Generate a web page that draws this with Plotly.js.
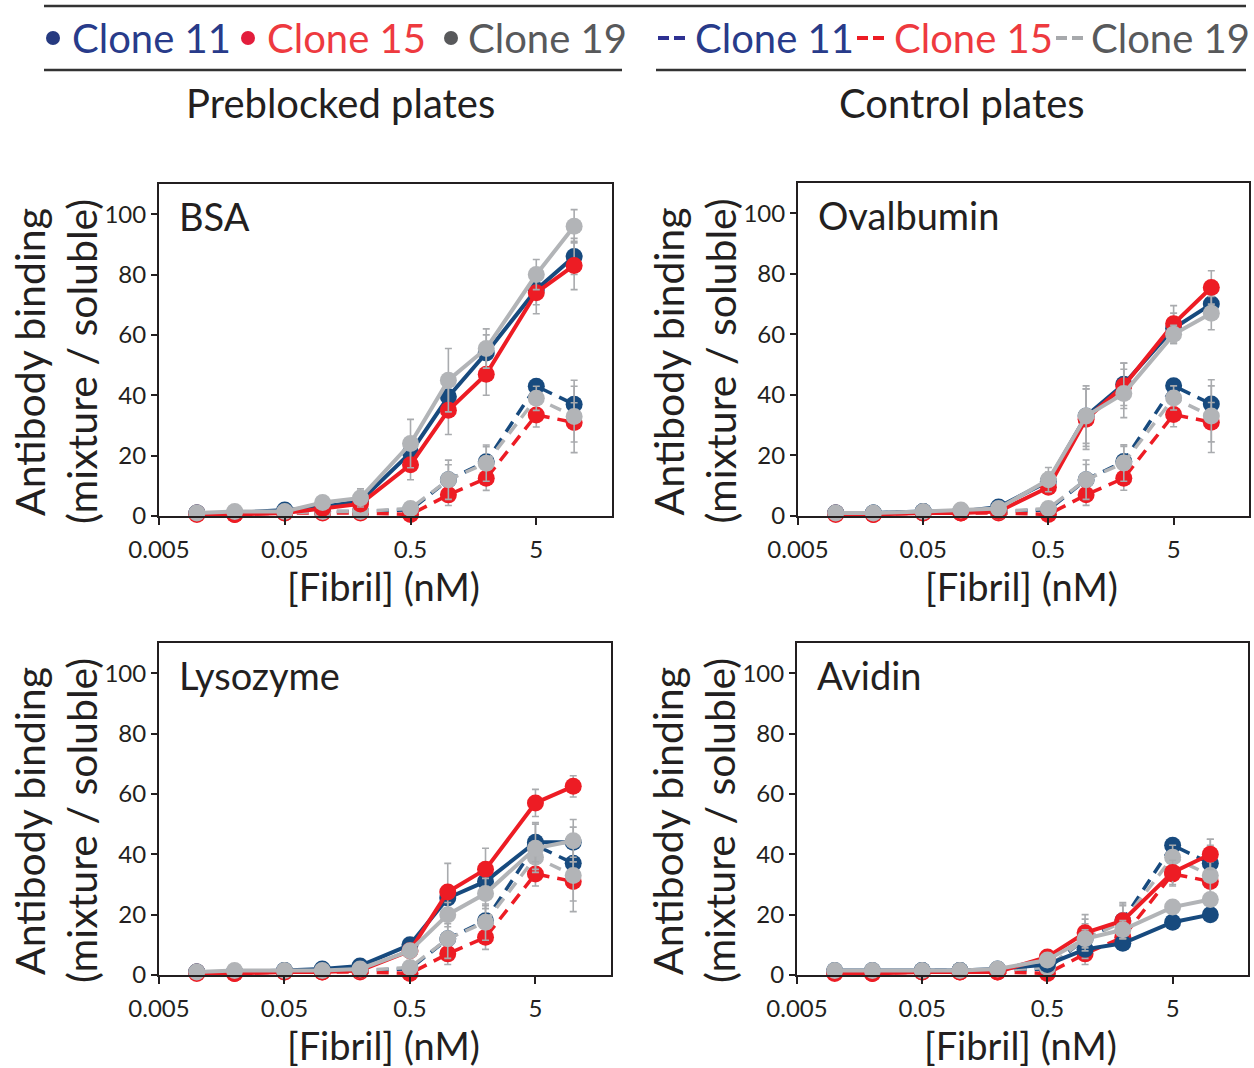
<!DOCTYPE html>
<html>
<head>
<meta charset="utf-8">
<script src="https://cdn.plot.ly/plotly-3.0.1.min.js"></script>
<style>html,body{margin:0;padding:0;background:#fff;}#chart{width:1254px;height:1068px;}</style>
</head>
<body>
<div id="chart"></div>
<script>
// ---- data ----
const fibril = [0.01, 0.02, 0.05, 0.1, 0.2, 0.5, 1, 2, 5, 10];
const xTickVals = [0.005, 0.05, 0.5, 5];
const xTickText = ['0.005', '0.05', '0.5', '5'];
const yTickVals = [0, 20, 40, 60, 80, 100];
const panelNames = ['BSA', 'Ovalbumin', 'Lysozyme', 'Avidin'];
const cloneNames = ['Clone 11', 'Clone 15', 'Clone 19'];

// control plates (dashed), same in every panel
const ctrl11 = [1, 1, 1.5, 1.5, 1.5, 2, 12, 18, 43, 37];
const ctrl15 = [1, 0.5, 1, 1, 1, 0.5, 7, 12.5, 33.5, 31];
const ctrl19 = [1, 1, 1, 1.5, 1.5, 2.5, 12, 17.5, 39, 33];
const ctrl11Err = [0.3, 0.3, 0.3, 0.3, 0.3, 0.5, 5, 5, 2, 6];
const ctrl15Err = [0.3, 0.3, 0.3, 0.3, 0.3, 0.5, 3.5, 4, 4, 6.5];
const ctrl19Err = [0.3, 0.3, 0.3, 0.3, 0.3, 0.5, 6.5, 6, 4, 12];

// preblocked plates (solid)
const bsa11 = [1, 1, 2, 3, 5, 21, 39.5, 54, 75, 86];
const bsa15 = [0.5, 0.5, 1, 2.5, 4, 17, 35, 47, 74, 83];
const bsa19 = [1, 1.5, 1.5, 4.5, 6, 24, 45, 55.5, 80, 96];
const bsa11Err = [0.3, 0.3, 0.5, 0.8, 1, 3, 6, 6, 5, 6];
const bsa15Err = [0.3, 0.3, 0.5, 0.8, 1, 5, 8, 7, 7, 8];
const bsa19Err = [0.3, 0.3, 0.5, 1, 3, 8, 10.5, 6.5, 5, 5.5];

const ova11 = [1, 1, 1.5, 1.5, 3, 11.5, 33, 43.5, 62, 70];
const ova15 = [0.5, 0.5, 1, 1, 1.5, 9.5, 32, 43, 63.5, 75.5];
const ova19 = [1, 1, 1.5, 2, 2.5, 12, 33, 40.5, 60, 67];
const ova11Err = [0.3, 0.3, 0.5, 0.5, 1, 3, 9, 7, 5, 5];
const ova15Err = [0.3, 0.3, 0.5, 0.5, 1, 2, 10, 7.5, 6, 5.5];
const ova19Err = [0.3, 0.3, 0.5, 0.5, 1, 4, 10, 8, 3, 5.5];

const lys11 = [1, 1, 1.5, 2, 3, 10, 25.5, 31, 44, 44];
const lys15 = [0.5, 0.5, 1, 1, 1.5, 8, 27.5, 35, 57, 62.5];
const lys19 = [1, 1.5, 1.5, 1.5, 2, 8, 20, 27, 42, 44.5];
const lys11Err = [0.3, 0.3, 0.5, 0.5, 1, 1, 4, 4, 6.5, 5];
const lys15Err = [0.3, 0.3, 0.5, 0.5, 1, 1, 9.5, 7, 4.5, 3.5];
const lys19Err = [0.3, 0.3, 0.5, 0.5, 1, 1, 4, 5, 8, 7];

const avi11 = [1.5, 1.5, 1.5, 1.5, 2, 3.5, 8.5, 10.5, 17.5, 20];
const avi15 = [0.5, 0.5, 1, 1, 1, 6, 14, 18, 34, 40];
const avi19 = [1.5, 1.5, 1.5, 1.5, 2, 5, 12, 15, 22.5, 25];
const avi11Err = [0.3, 0.3, 0.3, 0.3, 0.5, 1, 1.5, 2, 1.5, 1.5];
const avi15Err = [0.3, 0.3, 0.3, 0.3, 0.5, 1.5, 6, 6, 4, 5];
const avi19Err = [0.3, 0.3, 0.3, 0.3, 0.5, 1, 3, 3, 2, 2];

// ---- styling ----
const W = 1254, H = 1068;
const FONT = "Lato, 'Open Sans', sans-serif";
const lineCol = ['#174a7e', '#ed1c24', '#b2b4b7'];
const errCol = '#a9abae';
const px = p => p / W;
const py = p => 1 - p / H;

const solidSets = [
  [[bsa11, bsa11Err], [bsa15, bsa15Err], [bsa19, bsa19Err]],
  [[ova11, ova11Err], [ova15, ova15Err], [ova19, ova19Err]],
  [[lys11, lys11Err], [lys15, lys15Err], [lys19, lys19Err]],
  [[avi11, avi11Err], [avi15, avi15Err], [avi19, avi19Err]]
];
const ctrlSet = [[ctrl11, ctrl11Err], [ctrl15, ctrl15Err], [ctrl19, ctrl19Err]];

// panel boxes in pixels [left, right, top, bottom]
const boxes = [
  [159, 612, 184, 516],
  [798, 1249, 183, 516],
  [159, 611, 643, 975],
  [797, 1248, 643, 975]
];

const traces = [];
panelNames.forEach((name, p) => {
  const xa = p === 0 ? 'x' : 'x' + (p + 1);
  const ya = p === 0 ? 'y' : 'y' + (p + 1);
  ctrlSet.forEach((s, i) => {
    traces.push({
      type: 'scatter', mode: 'lines+markers', x: fibril, y: s[0],
      xaxis: xa, yaxis: ya, cliponaxis: false, showlegend: false,
      name: cloneNames[i] + ' control',
      line: {color: lineCol[i], width: 3.5, dash: '12px,8px'},
      marker: {color: lineCol[i], size: 17},
      error_y: {type: 'data', array: s[1], visible: true, color: errCol, thickness: 1.6, width: 3.5}
    });
  });
  solidSets[p].forEach((s, i) => {
    traces.push({
      type: 'scatter', mode: 'lines+markers', x: fibril, y: s[0],
      xaxis: xa, yaxis: ya, cliponaxis: false, showlegend: false,
      name: cloneNames[i] + ' preblocked',
      line: {color: lineCol[i], width: 4},
      marker: {color: lineCol[i], size: 17},
      error_y: {type: 'data', array: s[1], visible: true, color: errCol, thickness: 1.6, width: 3.5}
    });
  });
});

const layout = {
  width: W, height: H,
  margin: {l: 0, r: 0, t: 0, b: 0},
  paper_bgcolor: '#fff', plot_bgcolor: '#fff',
  showlegend: false,
  font: {family: FONT, color: '#231f20'},
  annotations: [], shapes: []
};

boxes.forEach((b, p) => {
  const xk = p === 0 ? 'xaxis' : 'xaxis' + (p + 1);
  const yk = p === 0 ? 'yaxis' : 'yaxis' + (p + 1);
  const ya = p === 0 ? 'y' : 'y' + (p + 1);
  const xa = p === 0 ? 'x' : 'x' + (p + 1);
  layout[xk] = {
    type: 'log', domain: [px(b[0]), px(b[1])], anchor: ya,
    range: [Math.log10(0.005), Math.log10(20)],
    tickvals: xTickVals, ticktext: xTickText,
    showline: true, mirror: true, linecolor: '#231f20', linewidth: 2,
    ticks: 'outside', ticklen: 7, tickwidth: 2, tickcolor: '#231f20',
    showgrid: false, zeroline: false, ticklabelstandoff: 4,
    tickfont: {family: FONT, size: 24, color: '#231f20'}
  };
  layout[yk] = {
    domain: [py(b[3]), py(b[2])], anchor: xa,
    range: [0, 110], tickvals: yTickVals,
    showline: true, mirror: true, linecolor: '#231f20', linewidth: 2,
    ticks: 'outside', ticklen: 6, tickwidth: 2, tickcolor: '#231f20',
    showgrid: false, zeroline: false,
    tickfont: {family: FONT, size: 24, color: '#231f20'}
  };
  // panel label
  layout.annotations.push({
    xref: 'paper', yref: 'paper', x: px(b[0] + 18), y: py(b[2] + 32),
    xanchor: 'left', yanchor: 'middle', showarrow: false,
    text: panelNames[p], font: {family: FONT, size: 38, color: '#231f20'}
  });
  // x title
  layout.annotations.push({
    xref: 'paper', yref: 'paper', x: px((b[0] + b[1]) / 2 - 2), y: py(b[3] + 70),
    xanchor: 'center', yanchor: 'middle', showarrow: false,
    text: '[Fibril] (nM)', font: {family: FONT, size: 38, color: '#231f20'}
  });
  // y title (two lines)
  const yc = (b[2] + b[3]) / 2 + 12;
  layout.annotations.push({
    xref: 'paper', yref: 'paper', x: px(b[0] - 130), y: py(yc),
    xanchor: 'center', yanchor: 'middle', showarrow: false, textangle: -90,
    text: 'Antibody binding', font: {family: FONT, size: 41, color: '#231f20'}
  });
  layout.annotations.push({
    xref: 'paper', yref: 'paper', x: px(b[0] - 78), y: py(yc),
    xanchor: 'center', yanchor: 'middle', showarrow: false, textangle: -90,
    text: '(mixture / soluble)', font: {family: FONT, size: 41, color: '#231f20'}
  });
});

// ---- header ----
const hdrLine = {type: 'line', xref: 'paper', yref: 'paper', line: {color: '#333333', width: 2.5}};
layout.shapes.push(Object.assign({}, hdrLine, {x0: px(44), x1: px(1246), y0: py(6), y1: py(6)}));
layout.shapes.push(Object.assign({}, hdrLine, {x0: px(44), x1: px(622), y0: py(70), y1: py(70)}));
layout.shapes.push(Object.assign({}, hdrLine, {x0: px(656), x1: px(1246), y0: py(70), y1: py(70)}));

const legTextCol = ['#283b8a', '#ee3a3f', '#58595b'];
const legDotCol = ['#263a80', '#e31d3c', '#58595b'];
const legDashCol = ['#2e3192', '#ed1c24', '#a7a9ac'];
const dotX = [53, 248, 451];
const leftTextX = [70, 265, 466];
const dashX = [658, 857, 1056];
const rightTextX = [693, 892, 1089];
const legY = 38;
cloneNames.forEach((c, i) => {
  layout.shapes.push({type: 'circle', xref: 'paper', yref: 'paper',
    x0: px(dotX[i] - 7), x1: px(dotX[i] + 7), y0: py(legY + 7), y1: py(legY - 7),
    fillcolor: legDotCol[i], line: {width: 0}});
  layout.annotations.push({xref: 'paper', yref: 'paper', x: px(leftTextX[i]), y: py(legY),
    xanchor: 'left', yanchor: 'middle', showarrow: false, text: c,
    font: {family: FONT, size: 40, color: legTextCol[i]}});
  [0, 16].forEach(o => {
    layout.shapes.push({type: 'line', xref: 'paper', yref: 'paper',
      x0: px(dashX[i] + o), x1: px(dashX[i] + o + 11), y0: py(legY), y1: py(legY),
      line: {color: legDashCol[i], width: 4}});
  });
  layout.annotations.push({xref: 'paper', yref: 'paper', x: px(rightTextX[i]), y: py(legY),
    xanchor: 'left', yanchor: 'middle', showarrow: false, text: c,
    font: {family: FONT, size: 40, color: legTextCol[i]}});
});
layout.annotations.push({xref: 'paper', yref: 'paper', x: px(340), y: py(103),
  xanchor: 'center', yanchor: 'middle', showarrow: false, text: 'Preblocked plates',
  font: {family: FONT, size: 40, color: '#231f20'}});
layout.annotations.push({xref: 'paper', yref: 'paper', x: px(962), y: py(103),
  xanchor: 'center', yanchor: 'middle', showarrow: false, text: 'Control plates',
  font: {family: FONT, size: 40, color: '#231f20'}});

Plotly.newPlot('chart', traces, layout, {staticPlot: true, displayModeBar: false});
</script>
</body>
</html>
